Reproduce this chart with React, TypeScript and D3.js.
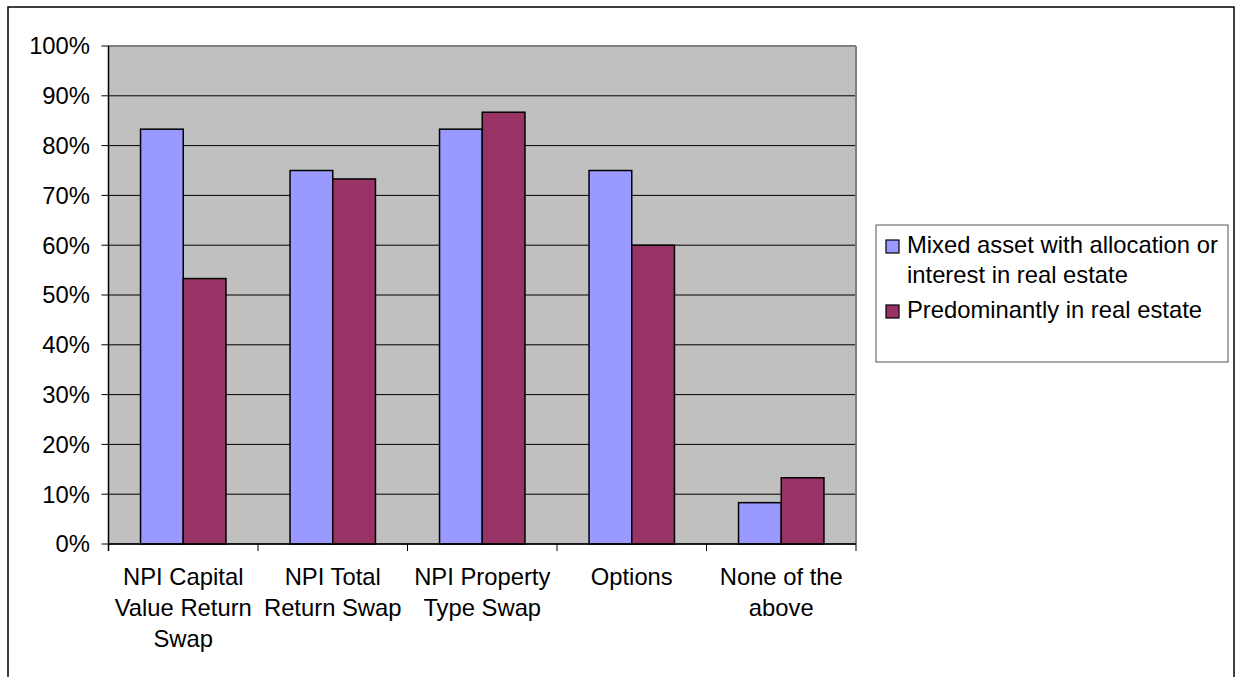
import React from "react";
import * as d3 from "d3";

const categories: string[][] = [
  ["NPI Capital", "Value Return", "Swap"],
  ["NPI Total", "Return Swap"],
  ["NPI Property", "Type Swap"],
  ["Options"],
  ["None of the", "above"],
];
const categoryKeys = ["cvr", "tr", "pt", "opt", "none"];
const seriesNames = [
  ["Mixed asset with allocation or", "interest in real estate"],
  ["Predominantly in real estate"],
];
const seriesKeys = ["mixed", "predominant"];
const mixedValues = [0.833, 0.75, 0.833, 0.75, 0.083];
const predominantValues = [0.533, 0.733, 0.867, 0.6, 0.133];
const yTicks = [0, 0.1, 0.2, 0.3, 0.4, 0.5, 0.6, 0.7, 0.8, 0.9, 1.0];
const colors = ["#9999FF", "#993366"];

const FONT = "'Liberation Sans', Arial, sans-serif";
const FS = 23.8;

export default function App() {
  const W = 1236;
  const H = 677;
  const left = 108.5;
  const right = 856;
  const top = 46;
  const bottom = 544;

  const y = d3.scaleLinear().domain([0, 1]).range([bottom, top]);
  const p = 1 - 2 / 3.5;
  const x = d3
    .scaleBand<string>()
    .domain(categoryKeys)
    .range([left, right])
    .paddingInner(p)
    .paddingOuter(p / 2);
  const step = x.step();
  const xs = d3.scaleBand<string>().domain(seriesKeys).range([0, x.bandwidth()]);
  const values = [mixedValues, predominantValues];
  const fmt = d3.format(".0%");

  return (
    <svg
      width={W}
      height={H}
      style={{ position: "absolute", left: 0, top: 0, background: "#fff" }}
      fontFamily={FONT}
    >
      <rect x={8} y={7} width={1226} height={720} fill="#fff" stroke="#000" strokeWidth={1.5} />
      {/* plot area */}
      <rect x={left} y={top} width={right - left} height={bottom - top} fill="#C0C0C0" />
      {yTicks.map((t) => (
        <line key={"g" + t} x1={left - 7} x2={right} y1={y(t)} y2={y(t)} stroke="#000" strokeWidth={1} />
      ))}
      <line x1={left} x2={right} y1={top} y2={top} stroke="#808080" strokeWidth={2} />
      <line x1={right} x2={right} y1={top} y2={bottom} stroke="#808080" strokeWidth={2} />
      {yTicks.map((t) => (
        <text key={"yl" + t} x={90} y={y(t)} dy="0.35em" textAnchor="end" fontSize={FS} fill="#000">
          {fmt(t)}
        </text>
      ))}
      {/* bars */}
      {categoryKeys.map((c, i) => (
        <g key={c} transform={`translate(${x(c)},0)`}>
          {seriesKeys.map((s, j) => (
            <rect
              key={s}
              x={xs(s)}
              y={y(values[j][i])}
              width={xs.bandwidth()}
              height={bottom - y(values[j][i])}
              fill={colors[j]}
              stroke="#000"
              strokeWidth={1.5}
            />
          ))}
        </g>
      ))}
      {/* axes */}
      <line x1={left} x2={left} y1={top} y2={bottom + 7} stroke="#000" strokeWidth={1.5} />
      <line x1={left} x2={right} y1={bottom} y2={bottom} stroke="#000" strokeWidth={1.5} />
      {d3.range(categoryKeys.length + 1).map((k) => (
        <line
          key={"xt" + k}
          x1={left + k * step}
          x2={left + k * step}
          y1={bottom}
          y2={bottom + 7}
          stroke="#000"
          strokeWidth={1}
        />
      ))}
      {categoryKeys.map((c, i) => (
        <text key={"xl" + c} textAnchor="middle" fontSize={FS} fill="#000">
          {categories[i].map((line, li) => (
            <tspan key={li} x={(x(c) as number) + x.bandwidth() / 2} y={585 + li * 31}>
              {line}
            </tspan>
          ))}
        </text>
      ))}
      {/* legend */}
      <rect x={876} y={225} width={352} height={137} fill="#fff" stroke="#555" strokeWidth={1} />
      {seriesKeys.map((s, j) => {
        const baseY = j === 0 ? 253 : 318;
        return (
          <g key={"lg" + s}>
            <rect x={886} y={baseY - 13} width={13} height={13} fill={colors[j]} stroke="#000" strokeWidth={1.2} />
            <text fontSize={FS} fill="#000">
              {seriesNames[j].map((line, li) => (
                <tspan key={li} x={907} y={baseY + li * 30}>
                  {line}
                </tspan>
              ))}
            </text>
          </g>
        );
      })}
    </svg>
  );
}
